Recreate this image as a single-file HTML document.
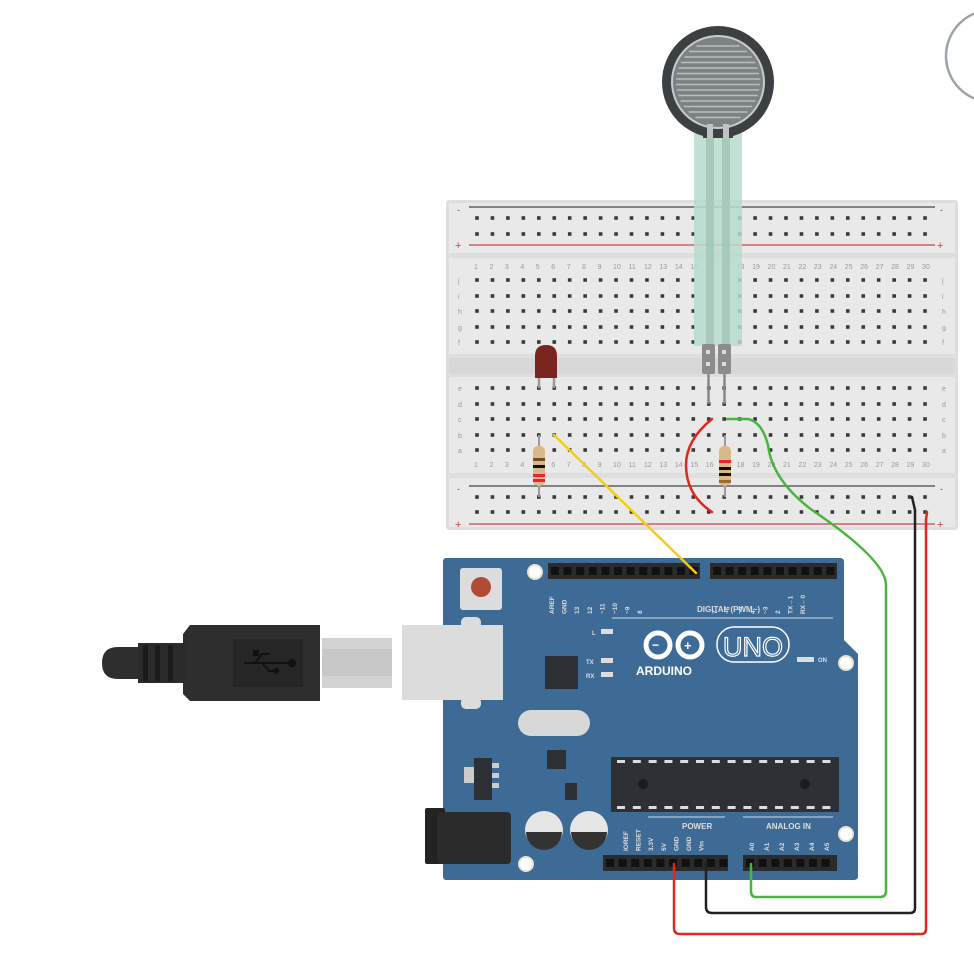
<!DOCTYPE html>
<html><head><meta charset="utf-8"><style>
html,body{margin:0;padding:0;background:#fff;}
svg{display:block;font-family:"Liberation Sans",sans-serif;}
</style></head><body>
<svg id="s" width="974" height="958" viewBox="0 0 974 958" xmlns="http://www.w3.org/2000/svg">
<!-- top-right circle -->
<circle cx="992" cy="56" r="46" fill="#fff" stroke="#9ba4ae" stroke-width="2.5"/>

<!-- breadboard -->
<rect x="446" y="200" width="512" height="330" rx="3" fill="#dedede"/>
<rect x="449" y="203" width="506" height="50" fill="#e9e9e9"/>
<rect x="449" y="258" width="506" height="96" fill="#e9e9e9"/>
<rect x="449" y="358" width="506" height="16" fill="#d8d8d8"/>
<rect x="449" y="377" width="506" height="96" fill="#e9e9e9"/>
<rect x="449" y="478" width="506" height="49" fill="#e9e9e9"/>
<line x1="469" y1="207" x2="935" y2="207" stroke="#444" stroke-width="1.2"/>
<line x1="469" y1="245" x2="935" y2="245" stroke="#c44" stroke-width="1.2"/>
<line x1="469" y1="486" x2="935" y2="486" stroke="#444" stroke-width="1.2"/>
<line x1="469" y1="524" x2="935" y2="524" stroke="#c44" stroke-width="1.2"/>
<g fill="#c44" font-size="11"><text x="455" y="249">+</text><text x="937" y="249">+</text><text x="455" y="528">+</text><text x="937" y="528">+</text></g>
<g fill="#555" font-size="9"><text x="457" y="213">-</text><text x="940" y="213">-</text><text x="457" y="492">-</text><text x="940" y="492">-</text></g>
<g id="holes" fill="#3a3a3a"></g>
<g id="labels" fill="#999" font-size="7"></g>

<!-- FSR -->
<rect x="694" y="128" width="48" height="218" fill="#b9dacd" opacity="0.85"/>
<rect x="706" y="128" width="8" height="218" fill="#a6cbbd"/>
<rect x="722" y="128" width="8" height="218" fill="#a6cbbd"/>
<circle cx="718" cy="82" r="56" fill="#3c4042"/>
<rect x="703" y="120" width="30" height="18" fill="#3c4042"/>
<circle cx="718" cy="82" r="47" fill="#c9cccc"/>
<circle cx="718" cy="82" r="45" fill="#7d8284"/>
<g stroke="#b9bdbd" stroke-width="1.6" id="fsr"></g>
<rect x="707" y="124" width="6" height="14" fill="#bfc3c3"/><rect x="723" y="124" width="6" height="14" fill="#bfc3c3"/>
<rect x="702" y="344" width="13" height="30" rx="2" fill="#8c8c8c"/>
<rect x="718" y="344" width="13" height="30" rx="2" fill="#8c8c8c"/>
<rect x="706" y="350" width="4" height="4" fill="#ddd"/><rect x="706" y="362" width="4" height="4" fill="#ddd"/>
<rect x="722" y="350" width="4" height="4" fill="#ddd"/><rect x="722" y="362" width="4" height="4" fill="#ddd"/>
<line x1="708.5" y1="374" x2="708.5" y2="404" stroke="#888" stroke-width="2.5"/>
<line x1="724.5" y1="374" x2="724.5" y2="404" stroke="#888" stroke-width="2.5"/>

<!-- LED -->
<line x1="539" y1="372" x2="539" y2="388" stroke="#999" stroke-width="2.5"/>
<line x1="554" y1="372" x2="554" y2="388" stroke="#999" stroke-width="2.5"/>
<path d="M535 378 L535 356 Q535 345 546 345 Q557 345 557 356 L557 378 Z" fill="#7b2521"/>

<!-- resistors -->
<g id="r1">
<line x1="539" y1="435" x2="539" y2="497" stroke="#999" stroke-width="2"/>
<rect x="533" y="446" width="12" height="40" rx="5" fill="#d8b98a"/>
<rect x="533" y="458" width="12" height="3" fill="#7a4a20"/>
<rect x="533" y="465" width="12" height="3" fill="#111"/>
<rect x="533" y="474" width="12" height="3" fill="#e23"/>
<rect x="533" y="479" width="12" height="3" fill="#e23"/>
</g>
<g>
<line x1="725" y1="435" x2="725" y2="497" stroke="#999" stroke-width="2"/>
<rect x="719" y="446" width="12" height="40" rx="5" fill="#d8b98a"/>
<rect x="719" y="460" width="12" height="3" fill="#e23"/>
<rect x="719" y="467" width="12" height="3" fill="#111"/>
<rect x="719" y="473" width="12" height="3" fill="#111"/>
<rect x="719" y="480" width="12" height="3" fill="#9a6a30"/>
</g>

<!-- Arduino -->
<path d="M446 558 L840 558 Q844 558 844 562 L844 640 L858 654 L858 876 Q858 880 854 880 L446 880 Q443 880 443 876 L443 562 Q443 558 446 558 Z" fill="#3e6b95"/>
<circle cx="535" cy="572" r="7" fill="#fff" stroke="#e8e3cc" stroke-width="2"/>
<circle cx="846" cy="663" r="7" fill="#fff" stroke="#e8e3cc" stroke-width="2"/>
<circle cx="846" cy="834" r="7" fill="#fff" stroke="#e8e3cc" stroke-width="2"/>
<circle cx="526" cy="864" r="7" fill="#fff" stroke="#e8e3cc" stroke-width="2"/>
<rect x="460" y="568" width="42" height="42" rx="3" fill="#dcdcdc"/>
<circle cx="481" cy="587" r="10" fill="#b34a35"/>
<rect x="548" y="563" width="152" height="16" fill="#2b2b2b"/>
<rect x="710" y="563" width="127" height="16" fill="#2b2b2b"/>
<rect x="603" y="855" width="125" height="16" fill="#2b2b2b"/>
<rect x="743" y="855" width="94" height="16" fill="#2b2b2b"/>
<g id="hdr" fill="#111"></g>
<g fill="#ddd" font-size="7" font-weight="bold">
<text x="697" y="612" font-size="8">DIGITAL (PWM~)</text>
<text x="682" y="829" font-size="8">POWER</text>
<text x="766" y="829" font-size="8">ANALOG IN</text>
<text x="818" y="662" font-size="6">ON</text>
<text x="592" y="635" font-size="6">L</text>
<text x="586" y="664" font-size="6">TX</text>
<text x="586" y="678" font-size="6">RX</text>
</g>
<g id="plab" fill="#ddd" font-size="6.5" font-weight="bold"></g>
<line x1="612" y1="618" x2="833" y2="618" stroke="#cfd8e2" stroke-width="1"/>
<line x1="648" y1="817" x2="725" y2="817" stroke="#cfd8e2" stroke-width="1"/>
<line x1="743" y1="817" x2="833" y2="817" stroke="#cfd8e2" stroke-width="1"/>
<rect x="601" y="629" width="12" height="5" fill="#ddd"/>
<rect x="601" y="658" width="12" height="5" fill="#ddd"/>
<rect x="601" y="672" width="12" height="5" fill="#ddd"/>
<rect x="797" y="657" width="17" height="5" fill="#ddd"/>
<!-- logo -->
<g fill="none" stroke="#fff" stroke-width="5">
<circle cx="658" cy="645" r="12"/><circle cx="690" cy="645" r="12"/>
</g>
<g fill="#fff" font-weight="bold"><text x="652" y="649" font-size="12">−</text><text x="684" y="650" font-size="13">+</text></g>
<text x="636" y="675" fill="#fff" font-size="12" font-weight="bold">ARDUINO</text>
<rect x="717" y="627" width="72" height="35" rx="17" fill="none" stroke="#fff" stroke-width="1.5"/>
<text x="723" y="656" fill="#3e6b95" stroke="#fff" stroke-width="1.2" font-size="27">UNO</text>
<rect x="545" y="656" width="33" height="33" fill="#2d3135"/>
<rect x="518" y="710" width="72" height="26" rx="13" fill="#d8d8d8"/>
<rect x="547" y="750" width="19" height="19" fill="#2d3135"/>
<rect x="474" y="758" width="18" height="42" fill="#2d3135"/>
<rect x="464" y="767" width="10" height="16" fill="#ccc"/>
<rect x="492" y="763" width="7" height="5" fill="#ccc"/><rect x="492" y="773" width="7" height="5" fill="#ccc"/><rect x="492" y="783" width="7" height="5" fill="#ccc"/>
<rect x="565" y="783" width="12" height="17" fill="#2d3135"/>
<rect x="611" y="757" width="228" height="55" fill="#2d3135"/>
<g id="chip" fill="#ddd"></g>
<circle cx="643" cy="784" r="5" fill="#1c1c1c"/><circle cx="805" cy="784" r="5" fill="#1c1c1c"/>
<circle cx="544" cy="830" r="19" fill="#e6e6e6"/><path d="M526 832 A18 18 0 0 0 562 832 Z" fill="#333"/>
<circle cx="589" cy="830" r="19" fill="#e6e6e6"/><path d="M571 832 A18 18 0 0 0 607 832 Z" fill="#333"/>
<rect x="425" y="808" width="20" height="56" rx="2" fill="#222"/>
<rect x="437" y="812" width="74" height="52" rx="4" fill="#2b2b2b"/>
<!-- USB socket -->
<rect x="402" y="625" width="101" height="75" fill="#dcdcdc"/>
<rect x="461" y="617" width="20" height="12" rx="5" fill="#dcdcdc"/>
<rect x="461" y="697" width="20" height="12" rx="5" fill="#dcdcdc"/>
<!-- USB plug -->
<rect x="322" y="638" width="70" height="50" fill="#d2d2d2"/>
<rect x="322" y="649" width="70" height="27" fill="#c7c7c7"/>
<path d="M190 625 L320 625 L320 701 L190 701 L183 694 L183 634 Z" fill="#2e2e2e"/>
<rect x="233" y="639" width="70" height="48" fill="#262626"/>
<rect x="138" y="643" width="48" height="40" fill="#2b2b2b"/>
<path d="M138 647 L118 647 Q102 647 102 663 Q102 679 118 679 L138 679 Z" fill="#2e2e2e"/>
<g fill="#1a1a1a"><rect x="143" y="645" width="5" height="36" rx="2"/><rect x="155" y="645" width="5" height="36" rx="2"/><rect x="168" y="645" width="5" height="36" rx="2"/></g>
<g stroke="#111" stroke-width="2" fill="#111"><line x1="244" y1="663" x2="293" y2="663"/><circle cx="292" cy="663" r="3"/><polyline points="255,663 262,654 270,654" fill="none"/><polyline points="262,663 269,671 275,671" fill="none"/><rect x="254" y="651" width="4" height="4"/><circle cx="276" cy="671" r="2"/></g>

<!-- wires -->
<g fill="none" stroke-width="2.5" stroke-linecap="round">
<path d="M554 435 L696 573" stroke="#f4cc1a"/>
<path d="M712 419 Q686 440 686 465 Q686 495 712 512" stroke="#e0281f"/>
<path d="M727 419 L748 419 Q762 422 768 445 Q772 480 812 510 Q886 560 886 585 L886 891 Q886 897 880 897 L756 897 Q751 897 751 891 L751 864" stroke="#4ab43e"/>
<path d="M912 497 L915 510 L915 908 Q915 913 910 913 L712 913 Q706 913 706 907 L706 864" stroke="#222"/>
<path d="M927 512 L926 520 L926 929 Q926 934 921 934 L680 934 Q674 934 674 928 L674 864" stroke="#e0281f"/>
</g>
</svg>
<script>
const NS="http://www.w3.org/2000/svg";
function el(p,t,a,txt){const e=document.createElementNS(NS,t);for(const k in a)e.setAttribute(k,a[k]);if(txt!==undefined)e.textContent=txt;p.appendChild(e);return e;}
const H=document.getElementById('holes'),L=document.getElementById('labels');
const ys=[218,234,280,296,311,327,342,388,404,419,435,450,497,512];
for(let c=0;c<30;c++){const x=477+c*15.45;for(const y of ys){el(H,'rect',{x:x-1.8,y:y-1.8,width:3.6,height:3.6});}
 el(L,'text',{x:x-3,y:269},String(c+1));el(L,'text',{x:x-3,y:467},String(c+1));}
const rl=['j','i','h','g','f'],rl2=['e','d','c','b','a'];
for(let i=0;i<5;i++){el(L,'text',{x:458,y:[280,296,311,327,342][i]+3},rl[i]);el(L,'text',{x:942,y:[280,296,311,327,342][i]+3},rl[i]);
 el(L,'text',{x:458,y:[388,404,419,435,450][i]+3},rl2[i]);el(L,'text',{x:942,y:[388,404,419,435,450][i]+3},rl2[i]);}
const F=document.getElementById('fsr');
for(let y=46;y<=120;y+=5.5){const d=y-82;const w=Math.sqrt(Math.max(0,42*42-d*d));el(F,'line',{x1:718-w,y1:y,x2:718+w,y2:y});}
const HD=document.getElementById('hdr');
function hdr(x0,x1,y){for(let x=x0+3;x<x1-6;x+=12.6)el(HD,'rect',{x:x,y:y+4,width:8,height:8});}
hdr(548,700,563);hdr(710,837,563);hdr(603,728,855);hdr(743,837,855);
const P=document.getElementById('plab');
const dl=['AREF','GND','13','12','~11','~10','~9','8'],dl2=['7','~6','~5','4','~3','2','TX→1','RX←0'];
function vt(x,y,t){el(P,'text',{x:x,y:y,transform:`rotate(-90 ${x} ${y})`},t);}
dl.forEach((t,i)=>vt(554+i*12.6,614,t));dl2.forEach((t,i)=>vt(717+i*12.6,614,t));
['IOREF','RESET','3.3V','5V','GND','GND','Vin'].forEach((t,i)=>vt(628+i*12.6,851,t));
['A0','A1','A2','A3','A4','A5'].forEach((t,i)=>vt(754+i*15,851,t));
const C=document.getElementById('chip');
for(let i=0;i<14;i++){const x=617+i*15.8;el(C,'rect',{x:x,y:760,width:8,height:3});el(C,'rect',{x:x,y:806,width:8,height:3});}
</script>
</body></html>
